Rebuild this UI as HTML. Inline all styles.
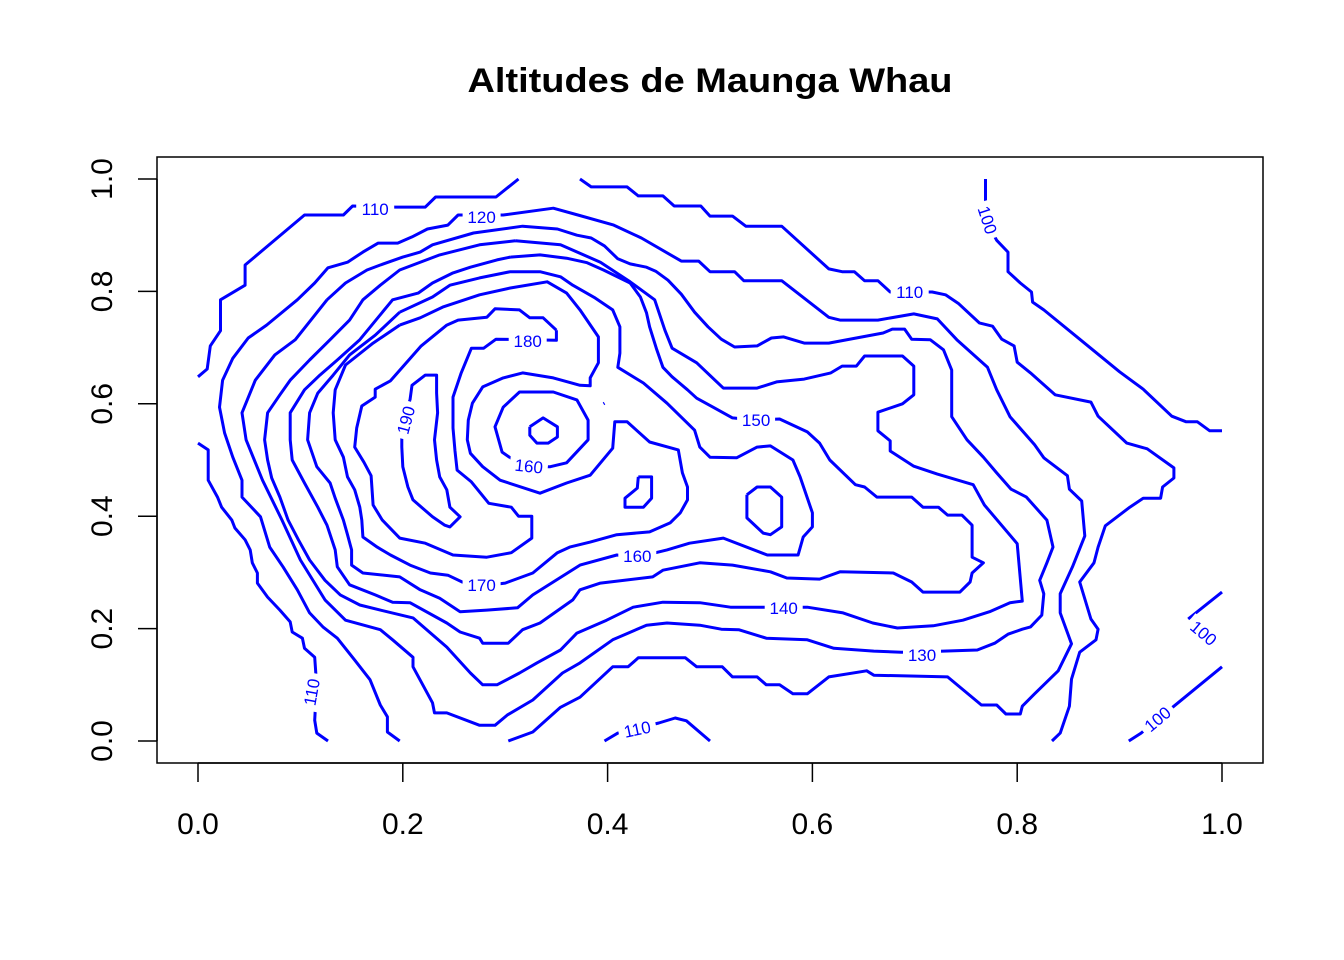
<!DOCTYPE html>
<html><head><meta charset="utf-8"><title>Altitudes de Maunga Whau</title>
<style>
html,body{margin:0;padding:0;background:#fff;}
svg{display:block;}
text{font-family:"Liberation Sans",Arial,sans-serif;}
</style></head>
<body>
<svg id="chart" width="1344" height="960" viewBox="0 0 1344 960" xmlns="http://www.w3.org/2000/svg">
<rect x="0" y="0" width="1344" height="960" fill="#fff"/>
<text x="710" y="92" text-anchor="middle" font-size="34" font-weight="bold" textLength="485" lengthAdjust="spacingAndGlyphs" fill="#000">Altitudes de Maunga Whau</text>
<g id="contours"></g>
<g id="labels"></g>
<rect x="157" y="157" width="1106" height="606" fill="none" stroke="#000" stroke-width="1.5"/>
<g id="axes"></g>
</svg>
<script>
// ---- data (x, y in 0..1 units) ----
const xTicks = [0, 0.2, 0.4, 0.6, 0.8, 1.0];
const xTickLabels = ["0.0","0.2","0.4","0.6","0.8","1.0"];
const yTicks = [0, 0.2, 0.4, 0.6, 0.8, 1.0];
const yTickLabels = ["0.0","0.2","0.4","0.6","0.8","1.0"];

const c110a = [[0,0.648],[0.009,0.662],[0.012,0.703],[0.022,0.730],[0.022,0.785],[0.046,0.811],[0.046,0.847],[0.104,0.936],[0.142,0.936],[0.151,0.952],[0.193,0.950],[0.222,0.950],[0.232,0.968],[0.291,0.968],[0.313,1.0]];
const c110b = [[0.373,1.0],[0.384,0.986],[0.419,0.986],[0.430,0.970],[0.454,0.970],[0.465,0.952],[0.491,0.952],[0.500,0.934],[0.522,0.934],[0.535,0.916],[0.570,0.916],[0.616,0.840],[0.629,0.835],[0.641,0.835],[0.651,0.819],[0.664,0.819],[0.676,0.799],[0.717,0.799],[0.730,0.794],[0.743,0.778],[0.763,0.744],[0.776,0.738],[0.785,0.715],[0.797,0.703],[0.800,0.674],[0.813,0.655],[0.837,0.616],[0.872,0.603],[0.879,0.578],[0.907,0.530],[0.927,0.520],[0.953,0.486],[0.953,0.468],[0.942,0.452],[0.940,0.432],[0.923,0.432],[0.910,0.416],[0.886,0.383],[0.879,0.345],[0.875,0.317],[0.861,0.283],[0.872,0.217],[0.879,0.199],[0.877,0.180],[0.861,0.158],[0.853,0.110],[0.851,0.062],[0.842,0.014],[0.834,0]];
const c110c = [[0,0.530],[0.010,0.518],[0.010,0.464],[0.019,0.434],[0.023,0.416],[0.033,0.393],[0.036,0.379],[0.046,0.358],[0.051,0.340],[0.053,0.317],[0.058,0.299],[0.058,0.281],[0.068,0.256],[0.080,0.233],[0.090,0.212],[0.092,0.194],[0.102,0.183],[0.104,0.165],[0.114,0.149],[0.115,0.121],[0.115,0.073],[0.114,0.037],[0.116,0.014],[0.127,0]];
const c110d = [[0.397,0],[0.410,0.014],[0.450,0.032],[0.466,0.041],[0.477,0.036],[0.500,0]];
const c100a = [[0.769,1.0],[0.769,0.963],[0.772,0.918],[0.780,0.891],[0.791,0.870],[0.791,0.835],[0.803,0.815],[0.814,0.799],[0.815,0.781],[0.826,0.767],[0.861,0.715],[0.900,0.657],[0.923,0.626],[0.951,0.578],[0.965,0.568],[0.976,0.568],[0.988,0.552],[1.0,0.552]];
const c100b = [[0.967,0.217],[1.0,0.265]];
const c100c = [[0.909,0],[0.921,0.014],[0.953,0.062],[1.0,0.132]];
const c120 = [[0.197,0],[0.185,0.016],[0.185,0.043],[0.178,0.064],[0.168,0.109],[0.153,0.144],[0.136,0.183],[0.122,0.203],[0.109,0.228],[0.097,0.269],[0.083,0.310],[0.070,0.345],[0.061,0.399],[0.043,0.434],[0.043,0.464],[0.034,0.505],[0.026,0.548],[0.021,0.594],[0.024,0.642],[0.034,0.681],[0.049,0.717],[0.067,0.740],[0.097,0.785],[0.114,0.815],[0.127,0.842],[0.146,0.852],[0.161,0.870],[0.176,0.886],[0.195,0.886],[0.209,0.897],[0.224,0.911],[0.244,0.918],[0.254,0.936],[0.298,0.936],[0.347,0.948],[0.371,0.936],[0.406,0.918],[0.433,0.895],[0.472,0.854],[0.489,0.854],[0.500,0.835],[0.524,0.835],[0.533,0.819],[0.570,0.819],[0.616,0.754],[0.627,0.749],[0.664,0.749],[0.699,0.760],[0.722,0.751],[0.741,0.714],[0.771,0.665],[0.780,0.625],[0.793,0.577],[0.817,0.527],[0.826,0.504],[0.849,0.472],[0.851,0.448],[0.863,0.427],[0.866,0.365],[0.854,0.310],[0.842,0.262],[0.842,0.228],[0.853,0.173],[0.840,0.125],[0.817,0.084],[0.805,0.062],[0.803,0.048],[0.789,0.048],[0.780,0.064],[0.765,0.064],[0.732,0.114],[0.660,0.117],[0.653,0.125],[0.616,0.114],[0.595,0.084],[0.581,0.084],[0.568,0.100],[0.555,0.100],[0.546,0.114],[0.522,0.114],[0.512,0.132],[0.487,0.132],[0.476,0.148],[0.430,0.148],[0.420,0.132],[0.405,0.132],[0.373,0.078],[0.354,0.060],[0.327,0.016],[0.303,0]];
const c130 = [[0.126,0.785],[0.144,0.815],[0.165,0.838],[0.178,0.847],[0.200,0.861],[0.217,0.870],[0.229,0.883],[0.269,0.904],[0.317,0.916],[0.351,0.911],[0.370,0.900],[0.384,0.895],[0.397,0.881],[0.410,0.858],[0.422,0.849],[0.438,0.843],[0.447,0.836],[0.459,0.820],[0.472,0.795],[0.485,0.763],[0.498,0.737],[0.511,0.715],[0.524,0.701],[0.546,0.703],[0.560,0.717],[0.572,0.719],[0.592,0.708],[0.616,0.708],[0.669,0.726],[0.678,0.733],[0.690,0.733],[0.697,0.715],[0.715,0.714],[0.728,0.696],[0.736,0.660],[0.736,0.577],[0.751,0.536],[0.767,0.505],[0.780,0.477],[0.794,0.448],[0.809,0.434],[0.829,0.393],[0.835,0.345],[0.829,0.317],[0.822,0.286],[0.826,0.262],[0.824,0.224],[0.813,0.203],[0.805,0.199],[0.791,0.190],[0.778,0.174],[0.761,0.162],[0.728,0.160],[0.687,0.158],[0.660,0.160],[0.621,0.165],[0.595,0.180],[0.555,0.183],[0.528,0.198],[0.511,0.199],[0.490,0.206],[0.458,0.210],[0.438,0.206],[0.405,0.180],[0.373,0.139],[0.356,0.121],[0.327,0.073],[0.302,0.046],[0.290,0.028],[0.275,0.028],[0.243,0.050],[0.231,0.050],[0.229,0.068],[0.210,0.132],[0.210,0.149],[0.190,0.180],[0.178,0.198],[0.144,0.215],[0.124,0.251],[0.100,0.322],[0.082,0.393],[0.063,0.464],[0.047,0.536],[0.043,0.584],[0.056,0.642],[0.075,0.687],[0.095,0.714],[0.126,0.785]];
const c140 = [[0.310,0.890],[0.354,0.883],[0.393,0.852],[0.422,0.817],[0.446,0.785],[0.456,0.731],[0.463,0.699],[0.487,0.673],[0.513,0.628],[0.546,0.628],[0.565,0.639],[0.592,0.644],[0.618,0.655],[0.629,0.667],[0.643,0.667],[0.651,0.685],[0.688,0.685],[0.699,0.667],[0.699,0.616],[0.688,0.600],[0.664,0.585],[0.664,0.552],[0.676,0.534],[0.676,0.516],[0.699,0.489],[0.722,0.475],[0.757,0.456],[0.768,0.420],[0.800,0.351],[0.805,0.249],[0.793,0.246],[0.773,0.230],[0.747,0.215],[0.718,0.205],[0.683,0.201],[0.659,0.210],[0.630,0.228],[0.595,0.238],[0.552,0.238],[0.520,0.238],[0.490,0.246],[0.454,0.247],[0.425,0.238],[0.399,0.215],[0.370,0.192],[0.354,0.162],[0.331,0.139],[0.314,0.121],[0.292,0.100],[0.278,0.100],[0.266,0.121],[0.243,0.167],[0.210,0.219],[0.178,0.233],[0.158,0.242],[0.139,0.260],[0.124,0.286],[0.109,0.322],[0.098,0.358],[0.088,0.393],[0.080,0.434],[0.072,0.468],[0.068,0.500],[0.065,0.536],[0.068,0.584],[0.080,0.616],[0.090,0.642],[0.109,0.678],[0.129,0.714],[0.148,0.749],[0.161,0.785],[0.178,0.811],[0.197,0.838],[0.236,0.865],[0.275,0.883],[0.310,0.890]];
const c150 = [[0.305,0.861],[0.334,0.865],[0.360,0.859],[0.380,0.851],[0.396,0.838],[0.422,0.815],[0.432,0.790],[0.438,0.762],[0.441,0.737],[0.448,0.696],[0.454,0.665],[0.463,0.648],[0.478,0.625],[0.487,0.610],[0.503,0.594],[0.522,0.575],[0.544,0.571],[0.568,0.573],[0.595,0.550],[0.607,0.530],[0.617,0.500],[0.642,0.456],[0.651,0.452],[0.663,0.434],[0.697,0.434],[0.708,0.416],[0.723,0.416],[0.732,0.402],[0.746,0.402],[0.756,0.384],[0.756,0.327],[0.767,0.317],[0.756,0.299],[0.754,0.283],[0.744,0.265],[0.708,0.265],[0.697,0.283],[0.679,0.299],[0.627,0.301],[0.607,0.288],[0.575,0.290],[0.559,0.301],[0.522,0.313],[0.490,0.317],[0.454,0.304],[0.444,0.292],[0.393,0.281],[0.373,0.269],[0.366,0.251],[0.334,0.210],[0.317,0.198],[0.303,0.174],[0.278,0.174],[0.275,0.183],[0.256,0.194],[0.243,0.210],[0.207,0.246],[0.190,0.247],[0.173,0.260],[0.148,0.278],[0.136,0.310],[0.134,0.340],[0.126,0.384],[0.117,0.416],[0.104,0.459],[0.092,0.500],[0.090,0.536],[0.090,0.584],[0.104,0.625],[0.119,0.651],[0.136,0.678],[0.158,0.714],[0.190,0.785],[0.215,0.797],[0.229,0.815],[0.249,0.833],[0.266,0.843],[0.292,0.856],[0.305,0.861]];
const c160 = [[0.197,0.763],[0.229,0.790],[0.246,0.811],[0.275,0.824],[0.305,0.835],[0.334,0.835],[0.354,0.826],[0.366,0.811],[0.388,0.788],[0.405,0.767],[0.412,0.737],[0.412,0.690],[0.410,0.665],[0.435,0.637],[0.458,0.601],[0.485,0.553],[0.490,0.523],[0.500,0.505],[0.526,0.504],[0.546,0.523],[0.559,0.525],[0.581,0.500],[0.588,0.470],[0.600,0.406],[0.600,0.381],[0.591,0.363],[0.586,0.331],[0.556,0.331],[0.513,0.361],[0.480,0.352],[0.458,0.340],[0.429,0.327],[0.409,0.331],[0.373,0.313],[0.327,0.260],[0.312,0.237],[0.282,0.233],[0.256,0.230],[0.236,0.254],[0.217,0.269],[0.197,0.292],[0.161,0.299],[0.150,0.313],[0.150,0.340],[0.146,0.367],[0.142,0.393],[0.134,0.432],[0.129,0.459],[0.116,0.488],[0.107,0.536],[0.109,0.584],[0.117,0.619],[0.132,0.651],[0.148,0.687],[0.173,0.722],[0.197,0.763]];
const c170 = [[0.197,0.740],[0.171,0.708],[0.144,0.669],[0.134,0.625],[0.132,0.584],[0.134,0.536],[0.142,0.505],[0.146,0.470],[0.153,0.447],[0.158,0.416],[0.160,0.393],[0.161,0.363],[0.175,0.345],[0.188,0.331],[0.207,0.313],[0.227,0.299],[0.244,0.295],[0.258,0.283],[0.277,0.276],[0.300,0.281],[0.327,0.299],[0.351,0.335],[0.363,0.345],[0.383,0.354],[0.409,0.367],[0.441,0.372],[0.461,0.388],[0.471,0.406],[0.478,0.429],[0.478,0.452],[0.473,0.477],[0.469,0.518],[0.441,0.532],[0.419,0.568],[0.407,0.568],[0.405,0.521],[0.383,0.473],[0.360,0.459],[0.334,0.441],[0.295,0.464],[0.278,0.488],[0.266,0.512],[0.263,0.536],[0.264,0.571],[0.268,0.601],[0.278,0.630],[0.298,0.646],[0.317,0.655],[0.347,0.646],[0.373,0.633],[0.383,0.632],[0.383,0.646],[0.391,0.673],[0.391,0.719],[0.373,0.767],[0.360,0.797],[0.341,0.817],[0.305,0.806],[0.275,0.794],[0.239,0.772],[0.217,0.753],[0.197,0.740]];
const c180 = [[0.350,0.731],[0.337,0.753],[0.324,0.753],[0.314,0.767],[0.290,0.769],[0.282,0.754],[0.254,0.749],[0.243,0.740],[0.218,0.703],[0.188,0.641],[0.173,0.626],[0.173,0.612],[0.160,0.596],[0.155,0.557],[0.153,0.523],[0.162,0.496],[0.169,0.472],[0.171,0.420],[0.180,0.393],[0.197,0.361],[0.222,0.352],[0.249,0.331],[0.282,0.327],[0.306,0.335],[0.326,0.361],[0.326,0.400],[0.313,0.400],[0.306,0.416],[0.284,0.423],[0.267,0.461],[0.253,0.482],[0.251,0.516],[0.249,0.557],[0.249,0.612],[0.257,0.655],[0.267,0.699],[0.279,0.699],[0.291,0.715],[0.350,0.713],[0.350,0.731]];
const c190 = [[0.207,0.607],[0.209,0.633],[0.222,0.651],[0.233,0.651],[0.233,0.619],[0.234,0.584],[0.231,0.536],[0.233,0.500],[0.236,0.470],[0.243,0.447],[0.246,0.416],[0.256,0.399],[0.246,0.381],[0.241,0.384],[0.229,0.399],[0.210,0.429],[0.205,0.452],[0.200,0.488],[0.199,0.523],[0.199,0.553],[0.202,0.580],[0.207,0.607]];
const crater160 = [[0.305,0.504],[0.297,0.514],[0.290,0.559],[0.298,0.594],[0.314,0.621],[0.347,0.621],[0.370,0.607],[0.381,0.571],[0.381,0.536],[0.360,0.495],[0.344,0.488],[0.324,0.488],[0.305,0.504]];
const crater150 = [[0.324,0.559],[0.337,0.575],[0.351,0.559],[0.351,0.541],[0.342,0.530],[0.331,0.530],[0.324,0.544],[0.324,0.559]];
const blobA = [[0.430,0.470],[0.443,0.470],[0.443,0.432],[0.435,0.416],[0.417,0.416],[0.417,0.432],[0.429,0.450],[0.430,0.470]];
const blobB = [[0.536,0.438],[0.546,0.452],[0.559,0.452],[0.570,0.434],[0.570,0.381],[0.559,0.367],[0.552,0.370],[0.536,0.397],[0.536,0.438]];
const dotPt = [[0.396,0.600],[0.397,0.601]];

const contourNames = ["contour-110-northwest","contour-110-northeast","contour-110-southwest","contour-110-south","contour-100-northeast","contour-100-east","contour-100-southeast","contour-120","contour-130","contour-140","contour-150","contour-160","contour-170","contour-180","contour-190","contour-160-crater","contour-150-crater","contour-160-knob","contour-160-hill","contour-dot"];
const contourData = [c110a,c110b,c110c,c110d,c100a,c100b,c100c,c120,c130,c140,c150,c160,c170,c180,c190,crater160,crater150,blobA,blobB,dotPt];

const labelText = ["110","120","110","100","180","190","160","150","160","170","140","130","110","110","100","100"];
const labelX = [0.173,0.277,0.695,0.771,0.322,0.203,0.323,0.545,0.429,0.277,0.572,0.707,0.111,0.429,0.982,0.937];
const labelY = [0.947,0.932,0.799,0.927,0.712,0.571,0.489,0.571,0.329,0.278,0.237,0.153,0.087,0.021,0.192,0.039];
const labelAngle = [0,0,0,72,0,-75,6,0,0,0,0,0,-80,-12,40,-40];

// ---- scales ----
const X0 = 198, XW = 1024, Y0 = 741, YH = 562;
function sx(v){ return X0 + v*XW; }
function sy(v){ return Y0 - v*YH; }
const NS = "http://www.w3.org/2000/svg";

const gC = document.getElementById('contours');
contourData.forEach((pts, i) => {
  const p = document.createElementNS(NS, 'polyline');
  p.setAttribute('points', pts.map(d => sx(d[0]).toFixed(1)+','+sy(d[1]).toFixed(1)).join(' '));
  p.setAttribute('fill', 'none');
  p.setAttribute('stroke', '#0000ff');
  p.setAttribute('stroke-width', '3');
  p.setAttribute('stroke-linejoin', 'round');
  
  
  gC.appendChild(p);
});

const gL = document.getElementById('labels');
labelText.forEach((t, i) => {
  const g = document.createElementNS(NS, 'g');
  g.setAttribute('transform', 'translate(' + sx(labelX[i]).toFixed(1) + ',' + sy(labelY[i]).toFixed(1) + ') rotate(' + labelAngle[i] + ')');
  
  
  const r = document.createElementNS(NS, 'rect');
  r.setAttribute('x', -19); r.setAttribute('y', -10);
  r.setAttribute('width', 38); r.setAttribute('height', 20);
  r.setAttribute('fill', '#fff');
  
  
  g.appendChild(r);
  const tx = document.createElementNS(NS, 'text');
  tx.setAttribute('x', 0); tx.setAttribute('y', 6);
  tx.setAttribute('text-anchor', 'middle');
  tx.setAttribute('font-size', '17');
  tx.setAttribute('fill', '#0000ff');
  tx.textContent = t;
  
  
  g.appendChild(tx);
  gL.appendChild(g);
});

const gA = document.getElementById('axes');
function line(x1,y1,x2,y2,name){
  const l = document.createElementNS(NS,'line');
  l.setAttribute('x1',x1); l.setAttribute('y1',y1); l.setAttribute('x2',x2); l.setAttribute('y2',y2);
  l.setAttribute('stroke','#000'); l.setAttribute('stroke-width','1.5');
  
  
  gA.appendChild(l);
}
line(sx(xTicks[0]),763,sx(xTicks[xTicks.length-1]),763,'x-axis-line');
xTicks.forEach((v,i)=>{
  line(sx(v),763,sx(v),782,'x-tick');
  const t = document.createElementNS(NS,'text');
  t.setAttribute('x', sx(v)); t.setAttribute('y', 834);
  t.setAttribute('text-anchor','middle'); t.setAttribute('font-size','30');
  t.textContent = xTickLabels[i];
  
  
  gA.appendChild(t);
});
line(157,sy(yTicks[0]),157,sy(yTicks[yTicks.length-1]),'y-axis-line');
yTicks.forEach((v,i)=>{
  line(138,sy(v),157,sy(v),'y-tick');
  const t = document.createElementNS(NS,'text');
  t.setAttribute('transform','translate(112,'+sy(v)+') rotate(-90)');
  t.setAttribute('text-anchor','middle'); t.setAttribute('font-size','30');
  t.textContent = yTickLabels[i];
  
  
  gA.appendChild(t);
});
</script>
</body></html>
